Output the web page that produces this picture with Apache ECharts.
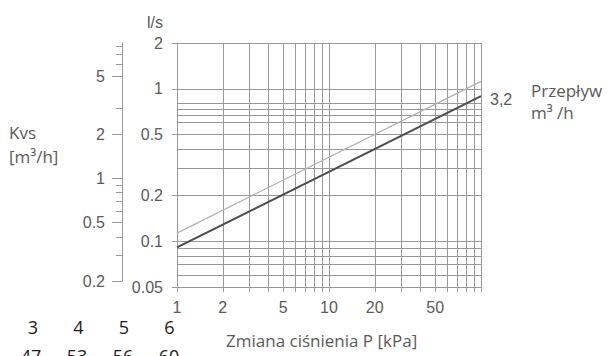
<!DOCTYPE html>
<html>
<head>
<meta charset="utf-8">
<script src="https://cdn.jsdelivr.net/npm/echarts@6/dist/echarts.min.js"></script>
<style>
  html, body { margin: 0; padding: 0; background: #fff; }
  #chart { width: 608px; height: 356px; }
</style>
</head>
<body>
<div id="chart"></div>
<script>
// Pressure drop axis (kPa): grid lines and labelled values
const pressureGrid = [1, 2, 3, 4, 5, 6, 7, 8, 9, 10, 20, 30, 40, 50, 60, 70, 80, 90, 100];
const pressureLabels = [1, 2, 5, 10, 20, 50];

// Flow axis (l/s): grid lines and labelled values
const flowGrid = [0.05, 0.06, 0.07, 0.08, 0.09, 0.1, 0.2, 0.3, 0.4, 0.5, 0.6, 0.67, 0.73, 0.8, 1, 2];
const flowLabels = [0.05, 0.1, 0.2, 0.5, 1, 2];

// Kvs scale (m³/h): major and minor ticks
const kvsLabels = [0.2, 0.5, 1, 2, 5];
const kvsMinor = [0.3, 0.4, 0.6, 0.7, 0.8, 0.9, 3, 6, 7, 8];

// Valve characteristics: [pressure drop kPa, flow l/s]
const curveKvs32 = [[1, 0.091], [100, 0.895]];
const curveKvs40 = [[1, 0.113], [100, 1.12]];
const curveKvs32Label = '3,2';

// Table rows under the chart
const tableSizes = ['3', '4', '5', '6'];
const tableValues = ['47', '53', '56', '60'];

const GRID = '#989898';
const TXT = '#5a5a5a';
const NUM_FONT = 'Liberation Sans';
const TITLE_FONT = 'Open Sans';

const fmt = v => String(+(+v).toPrecision(3));

const chart = echarts.init(document.getElementById('chart'), null, { renderer: 'svg' });

const tableTexts = [];
tableSizes.forEach((t, i) => {
  tableTexts.push({ type: 'text', x: 33 + i * 45.5, y: 327, style: { text: t, fill: '#1a1a1a', font: '18px ' + TITLE_FONT, align: 'center', verticalAlign: 'middle' } });
});
tableValues.forEach((t, i) => {
  tableTexts.push({ type: 'text', x: 31 + i * 46, y: 356, style: { text: t, fill: '#1a1a1a', font: '18px ' + TITLE_FONT, align: 'center', verticalAlign: 'middle' } });
});

chart.setOption({
  animation: false,
  grid: [
    { left: 177, top: 43, width: 304, height: 244 },
    { left: 122, top: 43, width: 1, height: 238 }
  ],
  xAxis: [
    {
      type: 'log', gridIndex: 0, min: 1, max: 100,
      axisLine: { show: true, lineStyle: { color: GRID, width: 1 } },
      axisTick: { show: true, length: 5, customValues: pressureGrid, lineStyle: { color: GRID } },
      splitLine: { show: true, lineStyle: { color: GRID, width: 1 } },
      axisLabel: { customValues: pressureLabels, formatter: fmt, margin: 12, color: TXT, fontSize: 16, fontFamily: NUM_FONT }
    },
    { type: 'value', gridIndex: 1, show: false }
  ],
  yAxis: [
    {
      type: 'log', gridIndex: 0, min: 0.05, max: 2, position: 'left',
      axisLine: { show: true, lineStyle: { color: GRID, width: 1 } },
      axisTick: { show: true, length: 5, customValues: flowLabels, lineStyle: { color: GRID } },
      splitLine: { show: false },
      axisLabel: { customValues: flowLabels, formatter: fmt, margin: 14, color: TXT, fontSize: 16, fontFamily: NUM_FONT, padding: [11, 0, 0, 0] }
    },
    {
      type: 'log', gridIndex: 0, min: 0.05, max: 2, position: 'left',
      axisLine: { show: false },
      axisTick: { show: false, customValues: flowGrid },
      axisLabel: { show: false },
      splitLine: { show: true, lineStyle: { color: GRID, width: 1 } }
    },
    {
      type: 'log', gridIndex: 1, min: 0.2, max: 8.4, position: 'left',
      axisLine: { show: true, lineStyle: { color: GRID, width: 1 } },
      axisTick: { show: true, length: 10, customValues: kvsLabels, lineStyle: { color: GRID } },
      splitLine: { show: false },
      axisLabel: { customValues: kvsLabels, formatter: fmt, margin: 17, color: TXT, fontSize: 16, fontFamily: NUM_FONT }
    },
    {
      type: 'log', gridIndex: 1, min: 0.2, max: 8.4, position: 'left',
      axisLine: { show: false },
      axisTick: { show: true, length: 6, customValues: kvsMinor, lineStyle: { color: GRID } },
      axisLabel: { show: false },
      splitLine: { show: false }
    }
  ],
  series: [
    {
      type: 'line', xAxisIndex: 0, yAxisIndex: 0, data: curveKvs40,
      symbol: 'none', silent: true,
      lineStyle: { color: '#b0b0b0', width: 1.3 }
    },
    {
      type: 'line', xAxisIndex: 0, yAxisIndex: 0, data: curveKvs32,
      symbol: 'none', silent: true,
      lineStyle: { color: '#4d4d4d', width: 2 },
      endLabel: { show: true, formatter: curveKvs32Label, distance: 9, offset: [0, 3], color: TXT, fontSize: 16, fontFamily: NUM_FONT }
    }
  ],
  graphic: [
    { type: 'text', x: 163, y: 22, style: { text: 'l/s', fill: TXT, font: '16px ' + NUM_FONT, align: 'right', verticalAlign: 'middle' } },
    { type: 'text', x: 9, y: 132, style: { text: 'Kvs', fill: TXT, font: '17px ' + TITLE_FONT, align: 'left', verticalAlign: 'middle' } },
    { type: 'text', x: 9, y: 156, style: { text: '[m³/h]', fill: TXT, font: '17px ' + TITLE_FONT, align: 'left', verticalAlign: 'middle' } },
    { type: 'text', x: 531, y: 90, style: { text: 'Przepływ', fill: TXT, font: '17px ' + TITLE_FONT, align: 'left', verticalAlign: 'middle' } },
    { type: 'text', x: 531, y: 112, style: { text: 'm³ /h', fill: TXT, font: '17px ' + TITLE_FONT, align: 'left', verticalAlign: 'middle' } },
    { type: 'text', x: 226, y: 340, style: { text: 'Zmiana ciśnienia P [kPa]', fill: TXT, font: '17px ' + TITLE_FONT, align: 'left', verticalAlign: 'middle' } }
  ].concat(tableTexts)
});
</script>
</body>
</html>
